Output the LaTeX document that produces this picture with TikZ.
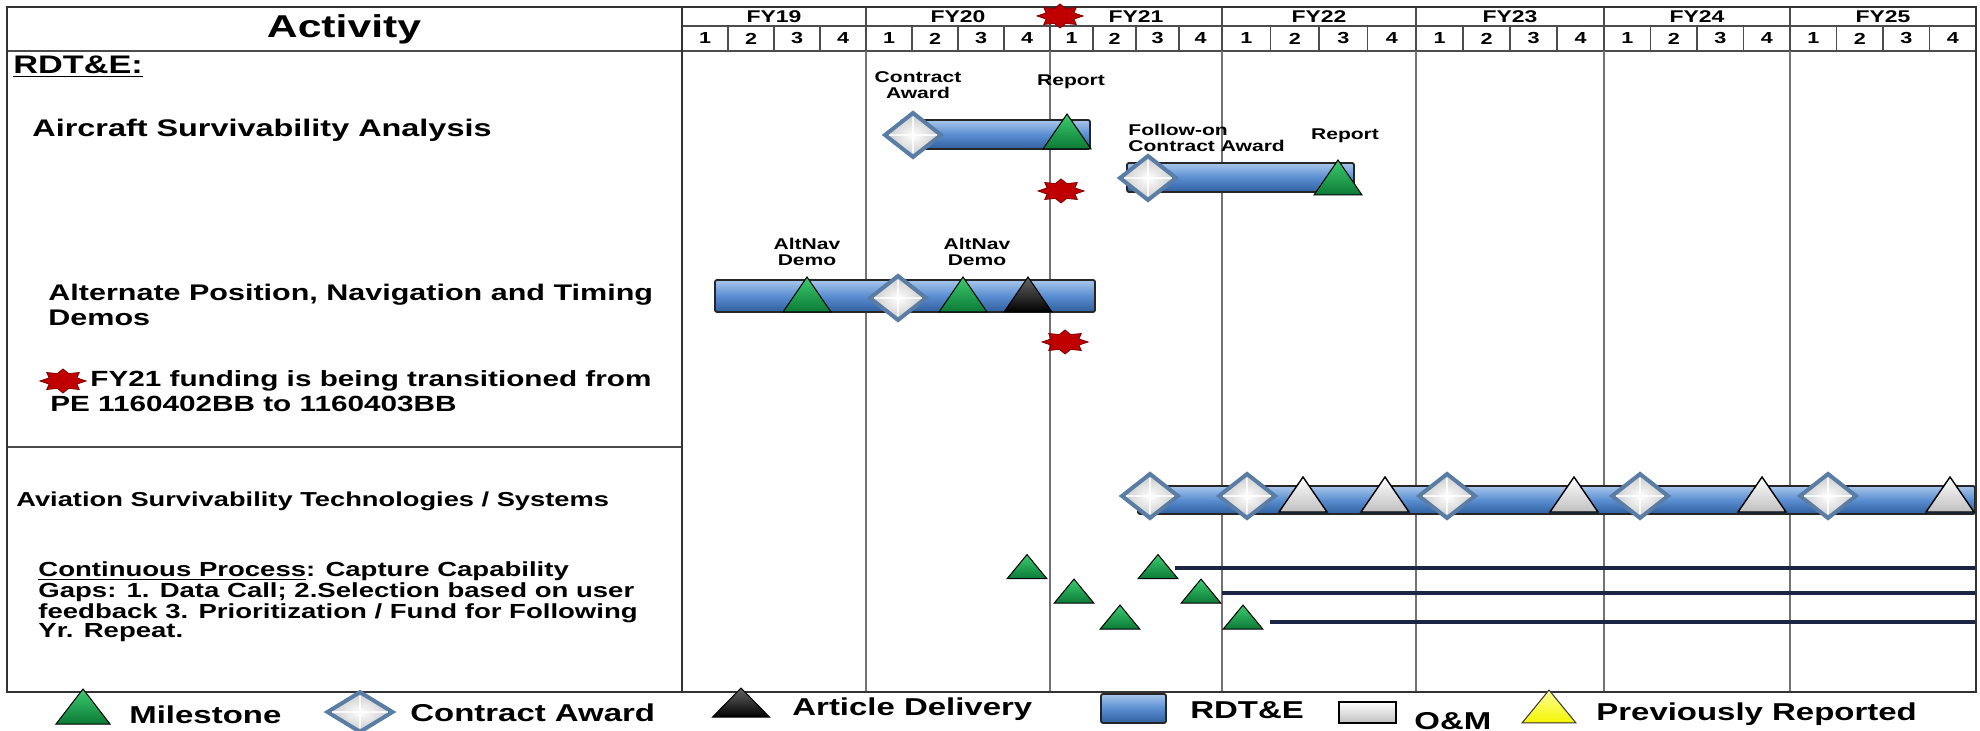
\documentclass[tikz,border=0pt]{standalone}
\usepackage{fontspec}
\setmainfont{Liberation Sans}[FakeStretch=1.35]
\usetikzlibrary{calc}

\definecolor{barhi}{HTML}{A8C6EA}
\definecolor{barmid}{HTML}{5A8ED2}
\definecolor{barlo}{HTML}{2F5F9E}
\definecolor{mshi}{HTML}{3CCB6E}
\definecolor{mslo}{HTML}{0C7A36}
\definecolor{diaedge}{HTML}{5A7DA6}
\definecolor{starred}{HTML}{C00000}
\definecolor{navyline}{HTML}{1C2545}
\definecolor{prevyel}{HTML}{F4F400}

\tikzset{
  frame/.style={draw=black!80, line width=1.1pt},
  yrline/.style={draw=black!55, line width=0.9pt},
  qline/.style={draw=black!70, line width=0.7pt},
  barbox/.style={draw=black!85, line width=0.9pt, rounded corners=1pt,
    top color=barhi, bottom color=barlo, middle color=barmid},
  ms/.style={draw=black, line width=0.5pt, top color=mshi, bottom color=mslo},
  ca/.style={draw=diaedge, line width=2pt, inner color=white, outer color=black!22},
  ad/.style={draw=black, line width=0.5pt, top color=black!60, bottom color=black},
  om/.style={draw=black, line width=0.7pt, top color=white, bottom color=black!25},
  prev/.style={draw=black!80, line width=0.5pt, top color=yellow!40!white, bottom color=prevyel},
  fund/.style={draw=red!50!black, line width=0.4pt, fill=starred},
  navy/.style={draw=navyline, line width=2pt},
  txt/.style={inner sep=0pt, anchor=west, align=left},
  lbl/.style={inner sep=0pt, align=center, font=\bfseries\fontsize{7.8}{8.3}\selectfont},
  key/.style={inner sep=0pt, anchor=west, font=\bfseries\fontsize{12.2}{14}\selectfont},
  tri/.pic={\path[#1] (-24,17) -- (0,-18) -- (24,17) -- cycle;},
  dia/.pic={\path[#1] (-28,0) -- (0,-22) -- (28,0) -- (0,22) -- cycle;
    \draw[white, line width=0.6pt, opacity=0.8] (-24,0) -- (24,0) (0,-18) -- (0,18);},
  burst/.pic={\path[#1] plot[variable=\k, samples at={0,...,15}]
    ({ifthenelse(mod(\k,2)==0,23,15)*cos(\k*22.5)},
     {ifthenelse(mod(\k,2)==0,12,8)*sin(\k*22.5)}) -- cycle;},
}

\begin{document}
\begin{tikzpicture}[x=0.5pt, y=-0.5pt]
  \path[use as bounding box, fill=white] (0,0) rectangle (1980,731);

  % header and year grid
  \node[font=\bfseries\fontsize{15.8}{18}\selectfont] (act) at (344,29) {Activity};
  \draw[qline] (682,26) -- (1976,26);
  \draw[qline] (7,51) -- (1976,51);
  \foreach \ya/\yb [count=\i from 19] in {682/866,866/1050,1050/1222,1222/1416,1416/1604,1604/1790,1790/1976}{
    \node[font=\bfseries\fontsize{8.5}{9}\selectfont] (fy\i) at ({(\ya+\yb)/2},16.5) {FY\i};
    \draw[qline] (\yb,7) -- (\yb,51);
    \draw[yrline] (\yb,51) -- (\yb,692);
    \foreach \q in {1,...,4}
      \node[font=\bfseries\fontsize{8}{9}\selectfont] (q\i-\q) at ({\ya+(\q-0.5)*(\yb-\ya)/4},38.5) {\q};
    \foreach \q in {1,2,3}
      \draw[qline] ({\ya+\q*(\yb-\ya)/4},26) -- ++(0,25);
  }
  \draw[qline] (7,447) -- (682,447);

  % left column
  \node[txt, font=\bfseries\fontsize{12.7}{14}\selectfont] (rdte) at (13,67) {\underline{RDT\&E:}};
  \node[txt, font=\bfseries\fontsize{12}{14}\selectfont] (asa) at (32,130) {Aircraft Survivability Analysis};
  \node[txt, font=\bfseries\fontsize{11.3}{12.5}\selectfont] (apnt) at (48,304.5)
    {Alternate Position, Navigation and Timing\\Demos};
  \node[txt, font=\bfseries\fontsize{11}{12.5}\selectfont] (note) at (50,391.5)
    {\hspace*{20pt}FY21 funding is being transitioned from\\PE 1160402BB to 1160403BB};
  \pic at (63,381) {burst=fund};
  \node[txt, font=\bfseries\fontsize{10.1}{12}\selectfont] (ast) at (16,501)
    {Aviation Survivability Technologies / Systems};
  \node[txt, font=\bfseries\fontsize{10.2}{9.5}\selectfont] (cp) at (38,601.5)
    {\underline{Continuous Process}: Capture Capability\\Gaps: 1. Data Call; 2.Selection based on user\\feedback 3. Prioritization / Fund for Following\\Yr. Repeat.};

  % aircraft survivability analysis
  \path[barbox] (901,120) rectangle (1090,149);
  \pic at (913,135) {dia=ca};
  \pic at (1067,132) {tri=ms};
  \node[lbl] (ca1) at (918,85) {Contract\\Award};
  \node[lbl] (rp1) at (1071,82) {Report};
  \pic at (1061,191) {burst=fund};
  \path[barbox] (1127,163) rectangle (1354,192);
  \pic at (1148,178) {dia=ca};
  \pic at (1338,178) {tri=ms};
  \node[lbl, anchor=west, align=left] (ca2) at (1128,138) {Follow-on\\Contract Award};
  \node[lbl] (rp2) at (1345,136) {Report};

  % APNT demos
  \path[barbox] (715,280) rectangle (1095,312);
  \pic at (807,295) {tri=ms};
  \pic at (898,298) {dia=ca};
  \pic at (963,295) {tri=ms};
  \pic at (1028,295) {tri=ad};
  \node[lbl] (alt1) at (807,252) {AltNav\\Demo};
  \node[lbl] (alt2) at (977,252) {AltNav\\Demo};
  \pic at (1065,342) {burst=fund};

  % aviation survivability technologies
  \path[barbox] (1138,486) rectangle (1975,514);
  \foreach \x in {1150,1247,1447,1640,1828}
    \pic at (\x,496) {dia=ca};
  \foreach \x in {1303,1385,1574,1762,1950}
    \pic at (\x,495) {tri=om};

  % continuous process
  \foreach \x/\y in {1027/567,1074/591.5,1120/617.5,1158/567,1201/591.5,1243/617.5}
    \pic[xscale=0.83, yscale=0.69] at (\x,\y) {tri=ms};
  \draw[navy] (1175,568) -- (1976,568);
  \draw[navy] (1222,593) -- (1976,593);
  \draw[navy] (1270,622) -- (1976,622);

  % frame
  \draw[frame] (7,7) rectangle (1976,692);
  \draw[frame] (682,7) -- (682,692);
  \pic at (1060,16) {burst=fund};

  % legend
  \pic[xscale=1.125] at (83,707) {tri=ms};
  \node[key] (kms) at (129,715) {Milestone};
  \pic[xscale=1.16, yscale=0.9] at (360,712) {dia=ca};
  \node[key] (kca) at (410,713) {Contract Award};
  \pic[xscale=1.19, yscale=0.83] at (741,703) {tri=ad};
  \node[key] (kad) at (792,709) {Article Delivery};
  \path[barbox] (1101,694) rectangle (1166,723);
  \node[key] (krd) at (1190,710) {RDT\&E};
  \path[om] (1339,702) rectangle (1396,723);
  \node[key] (kom) at (1414,721) {O\&M};
  \pic[xscale=1.125, yscale=0.94] at (1549,707) {tri=prev};
  \node[key] (kpr) at (1596,714) {Previously Reported};
\end{tikzpicture}
\end{document}
